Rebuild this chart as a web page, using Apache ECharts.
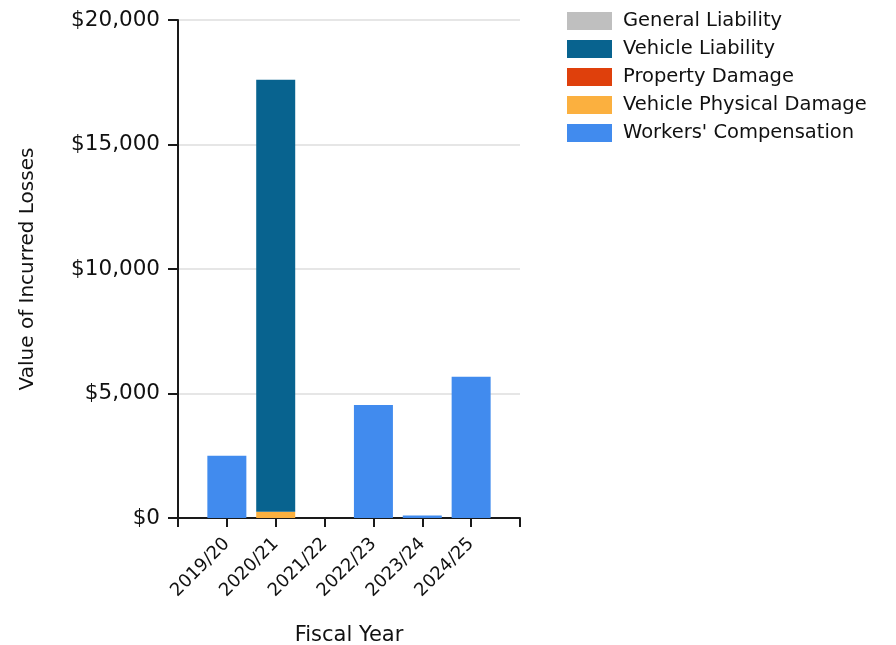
<!DOCTYPE html>
<html>
<head>
<meta charset="utf-8">
<script src="https://cdn.jsdelivr.net/npm/echarts@6/dist/echarts.min.js"></script>
<style>
  html, body { margin: 0; padding: 0; background: #ffffff; }
  #chart { width: 896px; height: 645px; }
</style>
</head>
<body>
<div id="chart"></div>
<script>
// Fiscal years shown on the category axis
const fiscalYears = ['2019/20', '2020/21', '2021/22', '2022/23', '2023/24', '2024/25'];

// Incurred losses per line of coverage (USD)
const generalLiability       = [0, 0, 0, 0, 0, 0];
const vehicleLiability       = [0, 17350, 0, 0, 0, 0];
const propertyDamage         = [0, 0, 0, 0, 0, 0];
const vehiclePhysicalDamage  = [0, 250, 0, 0, 0, 0];
const workersCompensation    = [2500, 0, 0, 4540, 100, 5670];

// Value axis ticks
const yTicks = [0, 5000, 10000, 15000, 20000];

const FONT = 'DejaVu Sans';
const TEXT = '#111111';

// Empty slots at both ends give half-step padding with ticks at the axis ends
const categories = [''].concat(fiscalYears, ['']);
const pad = arr => [null].concat(arr.map(v => (v === 0 ? null : v)), [null]);

const colors = {
  'General Liability': '#bfbfbf',
  'Vehicle Liability': '#08638f',
  'Property Damage': '#df400c',
  'Vehicle Physical Damage': '#fbb03f',
  "Workers' Compensation": '#418bee'
};

// Stacked bottom to top
const stackOrder = [
  ["Workers' Compensation", workersCompensation],
  ['Vehicle Physical Damage', vehiclePhysicalDamage],
  ['Property Damage', propertyDamage],
  ['Vehicle Liability', vehicleLiability],
  ['General Liability', generalLiability]
];

const series = stackOrder.map(([name, data]) => ({
  name: name,
  type: 'bar',
  stack: 'losses',
  barWidth: 39,
  data: pad(data),
  itemStyle: { color: colors[name] },
  emphasis: { disabled: true }
}));

const chart = echarts.init(document.getElementById('chart'), null, { renderer: 'canvas' });
chart.setOption({
  animation: false,
  backgroundColor: '#ffffff',
  textStyle: { fontFamily: FONT, color: TEXT },
  grid: { left: 178, right: 376, top: 20, bottom: 127, containLabel: false, outerBoundsMode: 'none' },
  legend: {
    orient: 'vertical',
    left: 567,
    top: 11,
    padding: 0,
    itemWidth: 45,
    itemHeight: 18,
    itemGap: 8,
    icon: 'rect',
    selectedMode: false,
    data: ['General Liability', 'Vehicle Liability', 'Property Damage', 'Vehicle Physical Damage', "Workers' Compensation"],
    textStyle: { fontFamily: FONT, fontSize: 19.5, lineHeight: 18, color: TEXT, padding: [0, 0, 0, 6] }
  },
  xAxis: {
    type: 'category',
    data: categories,
    boundaryGap: false,
    name: 'Fiscal Year',
    nameLocation: 'middle',
    nameGap: 107,
    nameTextStyle: { fontFamily: FONT, fontSize: 21, color: TEXT },
    axisLine: { lineStyle: { color: '#1a1a1a', width: 2 } },
    axisTick: { show: true, length: 9, interval: 0, lineStyle: { color: '#1a1a1a', width: 2 } },
    axisLabel: {
      interval: 0,
      rotate: 45,
      margin: 23,
      fontFamily: FONT,
      fontSize: 18,
      color: TEXT
    },
    splitLine: { show: false }
  },
  yAxis: {
    type: 'value',
    min: 0,
    max: 20000,
    interval: 5000,
    name: 'Value of Incurred Losses',
    nameLocation: 'middle',
    nameGap: 140,
    nameTextStyle: { fontFamily: FONT, fontSize: 20, color: TEXT },
    axisLine: { show: true, lineStyle: { color: '#1a1a1a', width: 2 } },
    axisTick: { show: true, length: 10, lineStyle: { color: '#1a1a1a', width: 2 } },
    axisLabel: {
      margin: 18,
      fontFamily: FONT,
      fontSize: 21.5,
      color: TEXT,
      formatter: v => (yTicks.indexOf(v) >= 0 ? '$' + v.toLocaleString('en-US') : '')
    },
    splitLine: { show: true, lineStyle: { color: '#dedede', width: 1.5 } }
  },
  series: series
});
</script>
</body>
</html>
